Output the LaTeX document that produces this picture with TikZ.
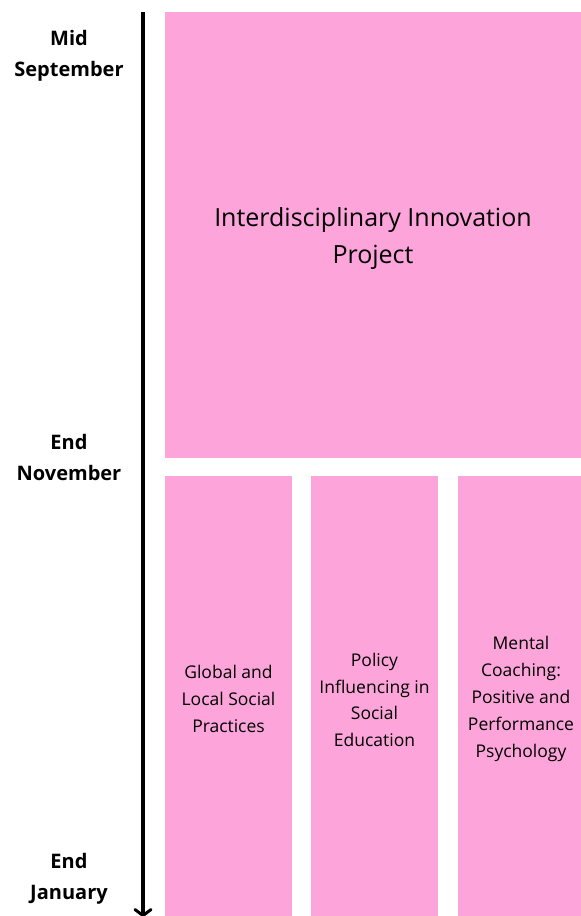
\documentclass[tikz,border=0pt]{standalone}
\usepackage{fontspec}
\setmainfont{Open Sans}
\usetikzlibrary{arrows.meta}
\definecolor{boxpink}{HTML}{FDA4DA}
\begin{document}
\begin{tikzpicture}[x=1pt,y=-1pt,
  blk/.style={fill=boxpink,draw=none},
  datelbl/.style={font=\fontsize{20}{31}\selectfont\bfseries,align=center,inner sep=0pt},
  bigtxt/.style={font=\fontsize{25}{37}\selectfont,align=center,inner sep=0pt},
  smalltxt/.style={font=\fontsize{17.5}{26.8}\selectfont,align=center,inner sep=0pt}]
\useasboundingbox (0,0) rectangle (581,916);
\fill[blk] (165,12) rectangle (581,458);
\fill[blk] (165,476) rectangle (292,916);
\fill[blk] (311,476) rectangle (438,916);
\fill[blk] (458,476) rectangle (581,916);
\node[bigtxt] (big) at (373,239) {Interdisciplinary Innovation\\Project};
\node[smalltxt] (b1) at (228.5,699) {Global and\\Local Social\\Practices};
\node[smalltxt] (b2) at (374.5,700) {Policy\\Influencing in\\Social\\Education};
\node[smalltxt] (b3) at (521,699) {Mental\\Coaching:\\Positive and\\Performance\\Psychology};
\node[datelbl] (d1) at (69,56) {Mid\\September};
\node[datelbl] (d2) at (69,457) {End\\November};
\node[datelbl] (d3) at (69,879) {End\\January};
\coordinate (atop) at (143,12);
\coordinate (abot) at (143,917);
\draw[line width=3.5pt,-{Straight Barb[length=6pt,width=16pt,line width=3pt,round]}] (atop) -- (abot);
\end{tikzpicture}
\end{document}
